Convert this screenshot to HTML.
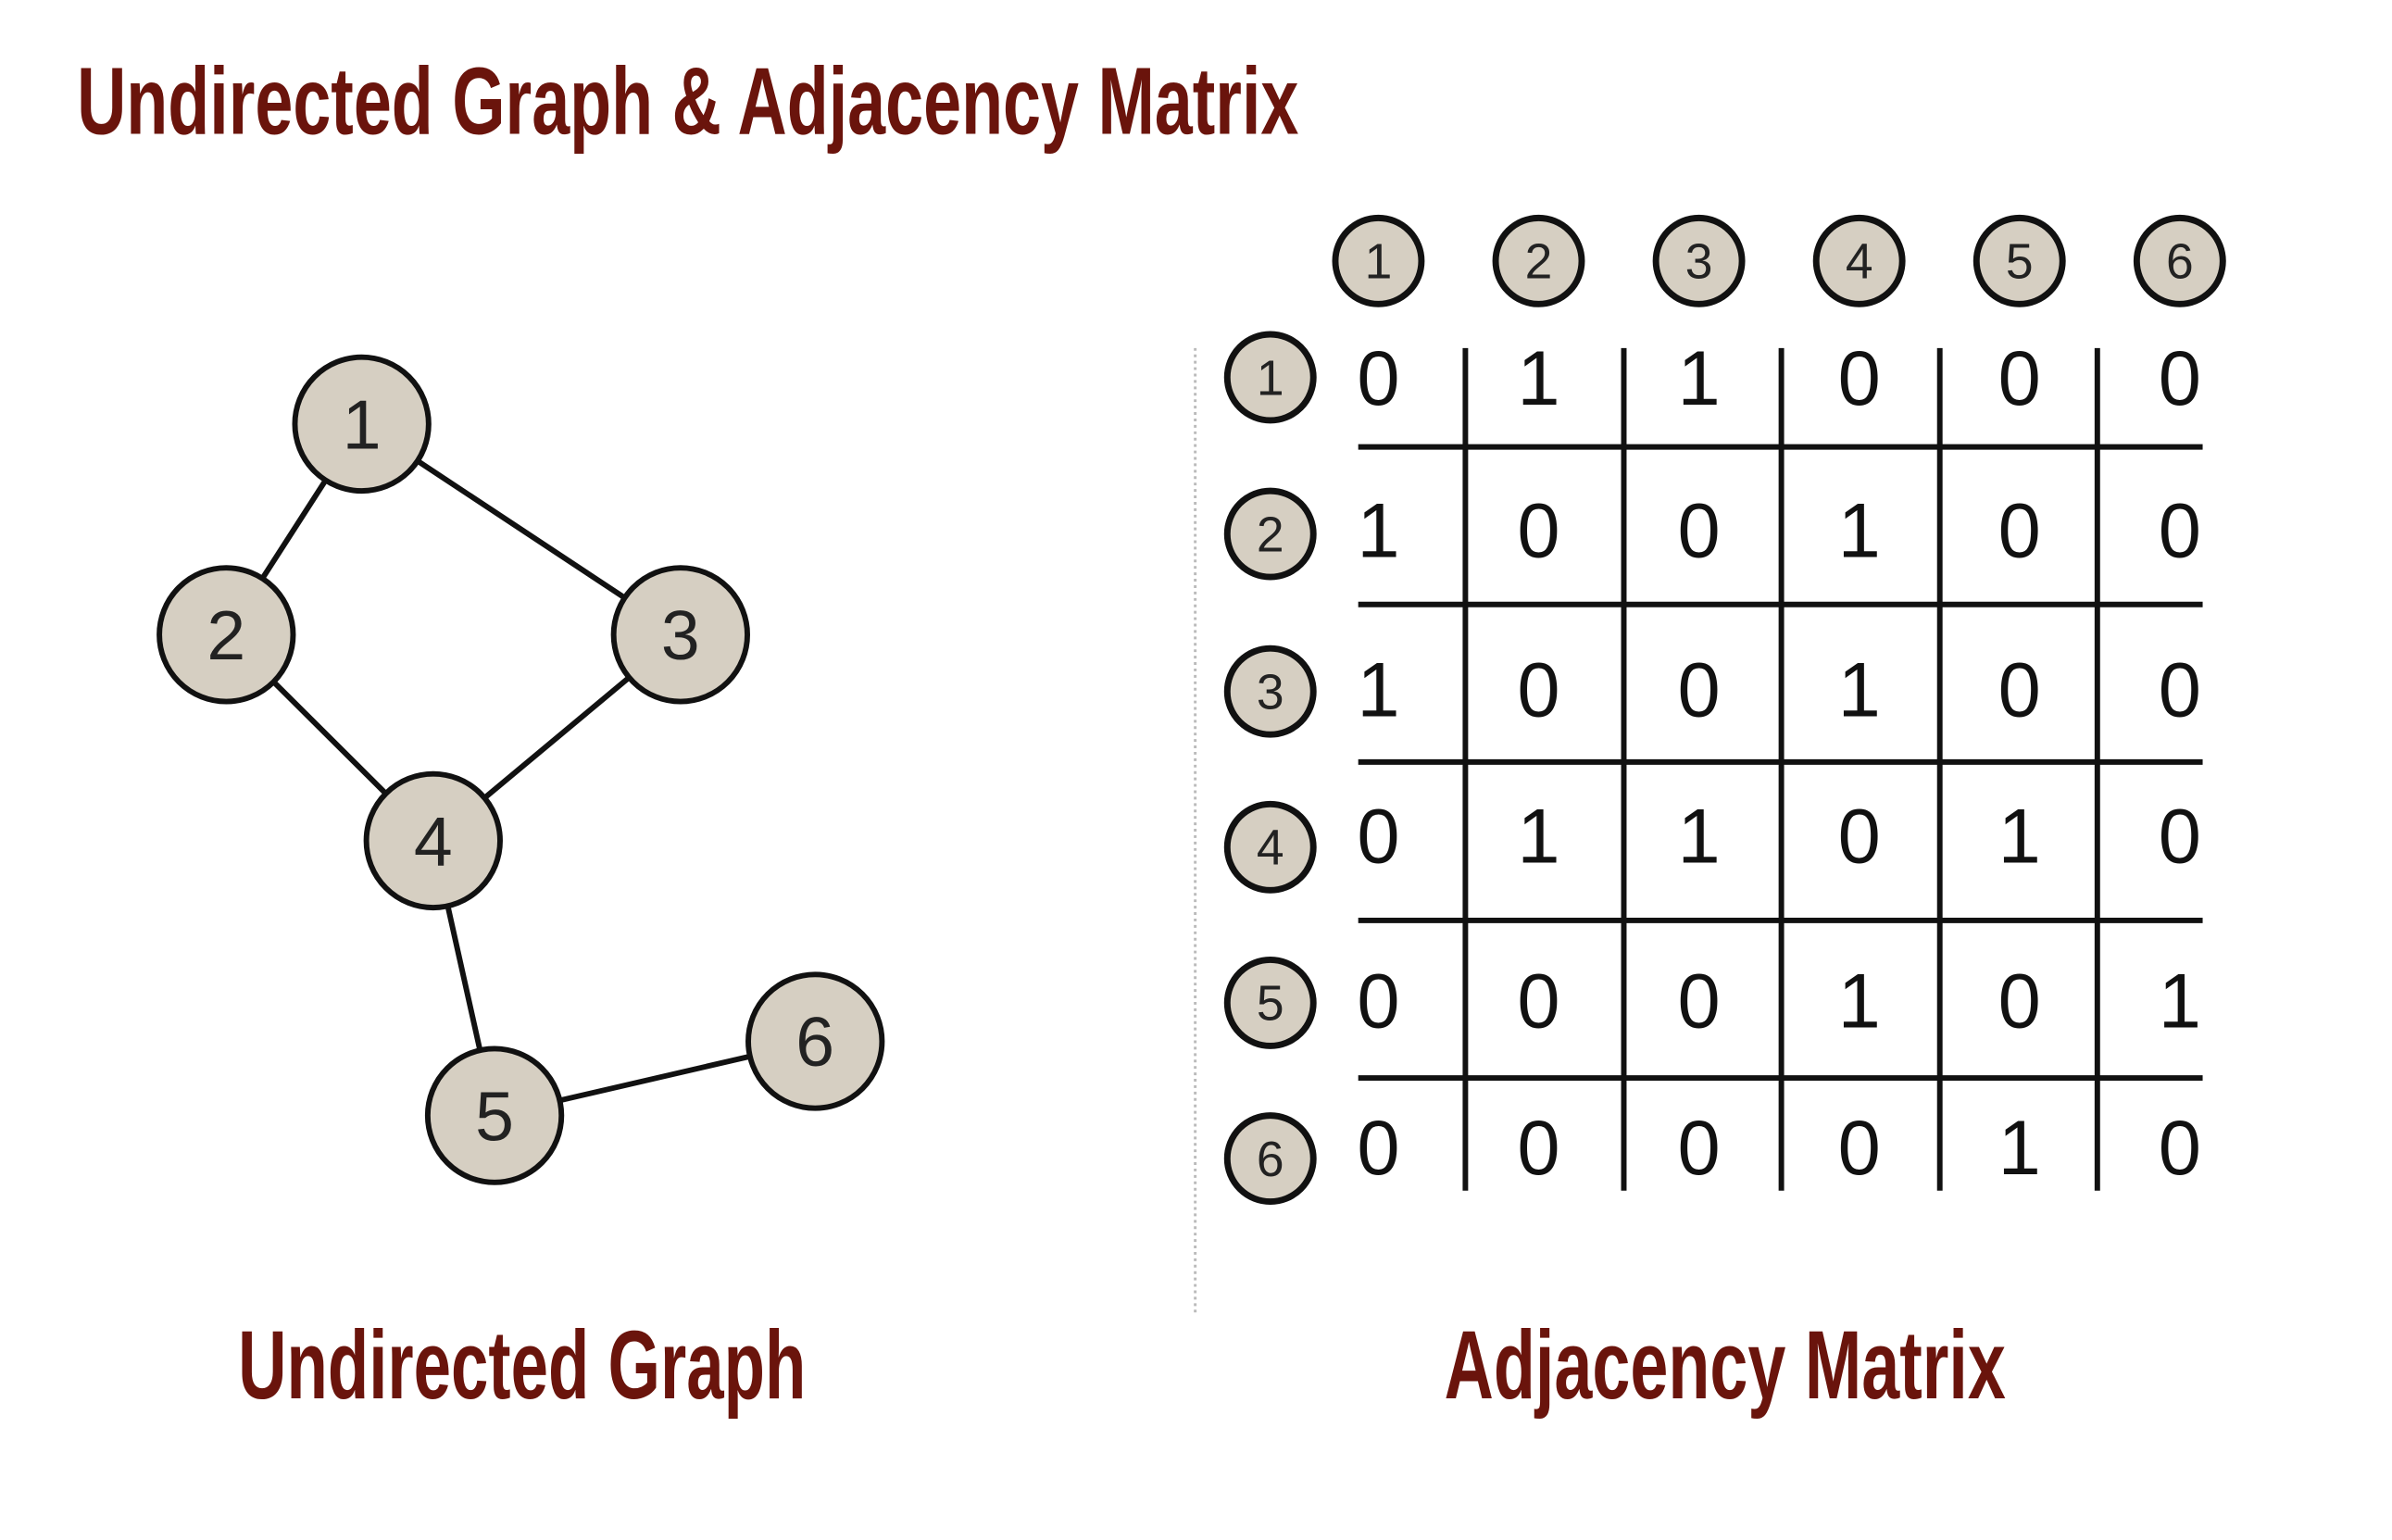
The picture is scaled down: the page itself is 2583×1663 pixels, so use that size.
<!DOCTYPE html>
<html><head><meta charset="utf-8"><style>html,body{margin:0;padding:0;background:#fff;}svg{display:block}</style></head>
<body>
<svg width="2583" height="1663" viewBox="0 0 2583 1663" xmlns="http://www.w3.org/2000/svg">
<g transform="scale(0.989)">
<g font-family="Liberation Sans, sans-serif" fill="#6a140c" font-weight="bold">
<text x="84" y="146" font-size="104" textLength="1334" lengthAdjust="spacingAndGlyphs">Undirected Graph &amp; Adjacency Matrix</text>
<text x="260" y="1527" font-size="106" textLength="620" lengthAdjust="spacingAndGlyphs">Undirected Graph</text>
<text x="1577" y="1527" font-size="106" textLength="613" lengthAdjust="spacingAndGlyphs">Adjacency Matrix</text>
</g>
<g stroke="#111" stroke-width="6">
<line x1="395" y1="463" x2="247" y2="693"/>
<line x1="395" y1="463" x2="743" y2="693"/>
<line x1="247" y1="693" x2="473" y2="918"/>
<line x1="743" y1="693" x2="473" y2="918"/>
<line x1="473" y1="918" x2="540" y2="1218"/>
<line x1="540" y1="1218" x2="890" y2="1137"/>
</g>
<g fill="#d6cfc2" stroke="#111" stroke-width="6">
<circle cx="395" cy="463" r="73"/><circle cx="247" cy="693" r="73"/><circle cx="743" cy="693" r="73"/>
<circle cx="473" cy="918" r="73"/><circle cx="540" cy="1218" r="73"/><circle cx="890" cy="1137" r="73"/>
</g>
<g font-family="Liberation Sans, sans-serif" font-size="76" fill="#222" text-anchor="middle">
<text x="395" y="490">1</text><text x="247" y="720">2</text><text x="743" y="720">3</text>
<text x="473" y="945">4</text><text x="540" y="1245">5</text><text x="890" y="1164">6</text>
</g>
<line x1="1305" y1="380" x2="1305" y2="1433" stroke="#bbb" stroke-width="3" stroke-dasharray="3,4"/>
<g fill="#d6cfc2" stroke="#111" stroke-width="7">
<circle cx="1505" cy="285" r="47"/><circle cx="1680" cy="285" r="47"/><circle cx="1855" cy="285" r="47"/>
<circle cx="2030" cy="285" r="47"/><circle cx="2205" cy="285" r="47"/><circle cx="2380" cy="285" r="47"/>
<circle cx="1387" cy="412" r="47"/><circle cx="1387" cy="583" r="47"/><circle cx="1387" cy="755" r="47"/>
<circle cx="1387" cy="925" r="47"/><circle cx="1387" cy="1095" r="47"/><circle cx="1387" cy="1265" r="47"/>
</g>
<g font-family="Liberation Sans, sans-serif" font-size="54" fill="#222" text-anchor="middle">
<text x="1505" y="304">1</text><text x="1680" y="304">2</text><text x="1855" y="304">3</text>
<text x="2030" y="304">4</text><text x="2205" y="304">5</text><text x="2380" y="304">6</text>
<text x="1387" y="431">1</text><text x="1387" y="602">2</text><text x="1387" y="774">3</text>
<text x="1387" y="944">4</text><text x="1387" y="1114">5</text><text x="1387" y="1284">6</text>
</g>
<g stroke="#111" stroke-width="6">
<line x1="1600" y1="380" x2="1600" y2="1300"/><line x1="1773" y1="380" x2="1773" y2="1300"/>
<line x1="1945" y1="380" x2="1945" y2="1300"/><line x1="2118" y1="380" x2="2118" y2="1300"/>
<line x1="2290" y1="380" x2="2290" y2="1300"/>
<line x1="1483" y1="488" x2="2405" y2="488"/><line x1="1483" y1="660" x2="2405" y2="660"/>
<line x1="1483" y1="832" x2="2405" y2="832"/><line x1="1483" y1="1005" x2="2405" y2="1005"/>
<line x1="1483" y1="1177" x2="2405" y2="1177"/>
</g>
<g font-family="Liberation Sans, sans-serif" font-size="84" fill="#111" text-anchor="middle">
<text x="1505" y="442">0</text><text x="1680" y="442">1</text><text x="1855" y="442">1</text><text x="2030" y="442">0</text><text x="2205" y="442">0</text><text x="2380" y="442">0</text>
<text x="1505" y="608">1</text><text x="1680" y="608">0</text><text x="1855" y="608">0</text><text x="2030" y="608">1</text><text x="2205" y="608">0</text><text x="2380" y="608">0</text>
<text x="1505" y="782">1</text><text x="1680" y="782">0</text><text x="1855" y="782">0</text><text x="2030" y="782">1</text><text x="2205" y="782">0</text><text x="2380" y="782">0</text>
<text x="1505" y="942">0</text><text x="1680" y="942">1</text><text x="1855" y="942">1</text><text x="2030" y="942">0</text><text x="2205" y="942">1</text><text x="2380" y="942">0</text>
<text x="1505" y="1122">0</text><text x="1680" y="1122">0</text><text x="1855" y="1122">0</text><text x="2030" y="1122">1</text><text x="2205" y="1122">0</text><text x="2380" y="1122">1</text>
<text x="1505" y="1282">0</text><text x="1680" y="1282">0</text><text x="1855" y="1282">0</text><text x="2030" y="1282">0</text><text x="2205" y="1282">1</text><text x="2380" y="1282">0</text>
</g>
</g>
</svg>
</body></html>
